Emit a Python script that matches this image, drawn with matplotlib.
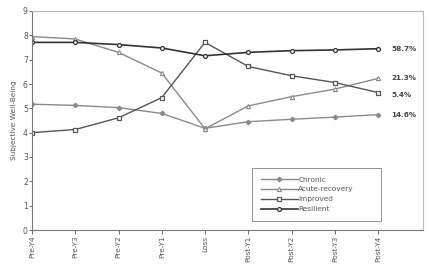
import matplotlib
matplotlib.use("Agg")
import matplotlib.pyplot as plt

categories = ["Pre-Y4", "Pre-Y3", "Pre-Y2", "Pre-Y1", "Loss", "Post-Y1", "Post-Y2", "Post-Y3", "Post-Y4"]
chronic = [5.17, 5.12, 5.03, 4.79, 4.18, 4.45, 4.55, 4.64, 4.74]
acute = [7.95, 7.85, 7.30, 6.45, 4.16, 5.10, 5.48, 5.79, 6.23]
improved = [4.00, 4.13, 4.61, 5.44, 7.71, 6.72, 6.34, 6.06, 5.65]
resilient = [7.71, 7.71, 7.62, 7.48, 7.16, 7.30, 7.37, 7.40, 7.45]
labels = ["Chronic", "Acute-recovery", "Improved", "Resilient"]
pct_labels = ["14.6%", "21.3%", "5.4%", "58.7%"]
pct_y = [4.74, 6.23, 5.55, 7.45]

fig = plt.figure(figsize=(4.29, 2.67), dpi=100)
ax = fig.add_axes([32/429, (267-230)/267, (423-32)/429, (230-11)/267])
x = list(range(len(categories)))

styles = [
    dict(color="#8a8a8a", marker="P", ms=2.8, mfc="#8a8a8a", mec="#8a8a8a", lw=1.0),
    dict(color="#8a8a8a", marker="^", ms=3.0, mfc="white", mec="#8a8a8a", lw=1.0, mew=0.8),
    dict(color="#555555", marker="s", ms=3.4, mfc="white", mec="#555555", lw=1.0, mew=0.9),
    dict(color="#333333", marker="o", ms=2.8, mfc="white", mec="#333333", lw=1.2, mew=0.9),
]
series = [chronic, acute, improved, resilient]
for s, lab, st in zip(series, labels, styles):
    ax.plot(x, s, label=lab, **st)

for t, yy in zip(pct_labels, pct_y):
    ax.text(8.3, yy, t, fontsize=5.2, color="#444444", fontweight="bold", va="center", ha="left")

ax.set_xlim(0, 9.04)
ax.set_ylim(0, 9)
ax.set_xticks(x)
ax.set_xticklabels(categories, rotation=90, fontsize=5.3, color="#555555")
ax.set_yticks(range(10))
ax.tick_params(axis="y", labelsize=5.5, colors="#555555", length=2, width=0.6, pad=1)
ax.tick_params(axis="x", length=3, width=0.6, pad=1, colors="#555555")
ax.set_ylabel("Subjective Well-Being", fontsize=5.3, color="#555555", labelpad=4)
for side in ["left", "bottom"]:
    ax.spines[side].set_color("#777777")
    ax.spines[side].set_linewidth(0.8)
for side in ["top", "right"]:
    ax.spines[side].set_color("#bbbbbb")
    ax.spines[side].set_linewidth(0.8)

leg = ax.legend(loc="lower left", bbox_to_anchor=((252-32)/391, (230-221)/219, (381-252)/391, (221-156)/219),
                mode="expand", fontsize=5.3, frameon=True, fancybox=False, edgecolor="#777777",
                handlelength=5, borderpad=1.2, labelspacing=0.5, handletextpad=0.1, borderaxespad=0)
leg.get_frame().set_linewidth(0.7)
for t in leg.get_texts():
    t.set_color("#555555")

fig.savefig("out.png", dpi=100)
